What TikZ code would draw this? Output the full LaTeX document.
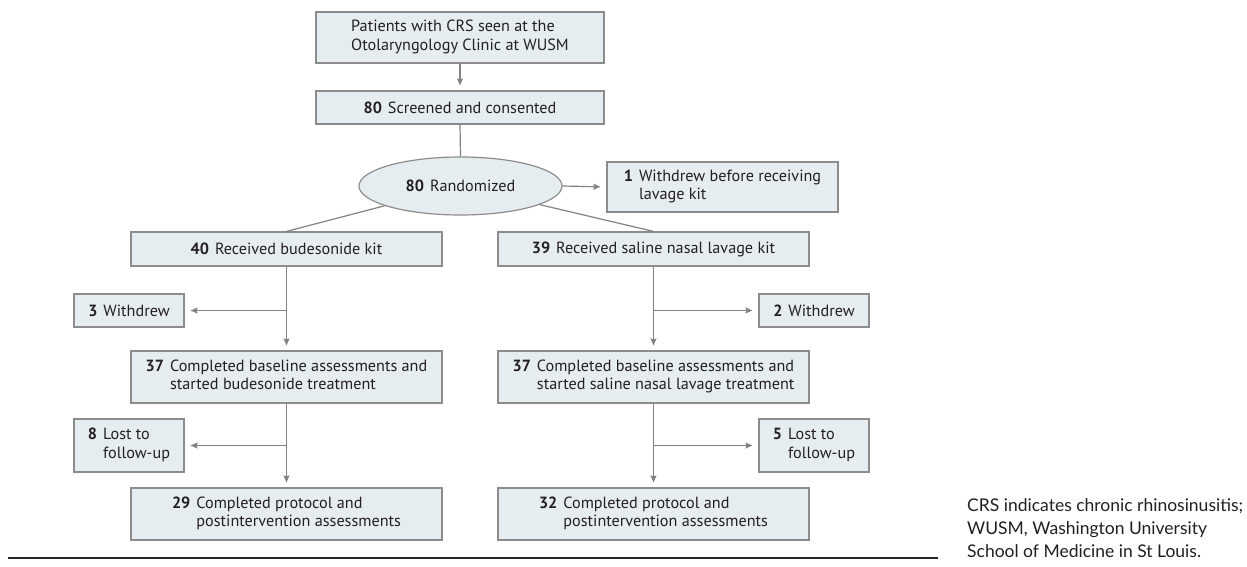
\documentclass[tikz,border=0pt]{standalone}
\usepackage{fontspec}
\usetikzlibrary{shapes.geometric,arrows.meta}
\newfontfamily\boxfont{PT Sans}
\newfontfamily\notefont{Lato}
\definecolor{boxfill}{RGB}{230,237,241}
\definecolor{boxline}{RGB}{140,140,140}
\definecolor{conn}{RGB}{130,130,130}
\definecolor{txt}{RGB}{35,31,32}
\begin{document}
\begin{tikzpicture}[x=1pt,y=-1pt,
  every node/.style={text=txt,font=\boxfont\fontsize{16.2}{18.5}\selectfont},
  fbox/.style={draw=boxline,fill=boxfill,line width=1.2pt,inner sep=0pt,align=center},
  wbox/.style={fbox,minimum width=311pt},
  sbox/.style={fbox,minimum width=110pt},
  conline/.style={draw=conn,line width=1.2pt},
  arr/.style={conline,-{Stealth[length=7pt,width=6pt,inset=1pt]},shorten >=5pt}
]
\useasboundingbox (0,0) rectangle (1247,567);
% nodes
\node[fbox,minimum width=288pt,minimum height=51pt] (b1) at (460,37.5)
  {\begin{tabular}{@{}l@{}}Patients with CRS seen at the\\Otolaryngology Clinic at WUSM\end{tabular}};
\node[fbox,minimum width=288pt,minimum height=33pt] (b2) at (460,107.5)
  {\textbf{80}\hspace{6pt}Screened and consented};
\node[ellipse,draw=boxline,fill=boxfill,line width=1.2pt,inner sep=0pt,
  minimum width=203pt,minimum height=58pt] (ell) at (460.5,186)
  {\textbf{80}\hspace{6pt}Randomized};
\node[fbox,minimum width=231pt,minimum height=50pt] (wd1) at (722.5,187)
  {\begin{tabular}{@{}r@{\hspace{6pt}}l@{}}\textbf{1}&Withdrew before receiving\\&lavage kit\end{tabular}};
\node[wbox,minimum height=34pt] (r40) at (286.5,249)
  {\textbf{40}\hspace{6pt}Received budesonide kit};
\node[wbox,minimum height=34pt] (r39) at (653.5,249)
  {\textbf{39}\hspace{6pt}Received saline nasal lavage kit};
\node[sbox,minimum height=33pt] (w3) at (129,310.5)
  {\textbf{3}\hspace{6pt}Withdrew};
\node[sbox,minimum height=33pt] (w2) at (814,310.5)
  {\textbf{2}\hspace{6pt}Withdrew};
\node[wbox,minimum height=52pt] (c37a) at (286.5,377)
  {\begin{tabular}{@{}r@{\hspace{6pt}}l@{}}\textbf{37}&Completed baseline assessments and\\&started budesonide treatment\end{tabular}};
\node[wbox,minimum height=52pt] (c37b) at (653.5,377)
  {\begin{tabular}{@{}r@{\hspace{6pt}}l@{}}\textbf{37}&Completed baseline assessments and\\&started saline nasal lavage treatment\end{tabular}};
\node[sbox,minimum height=53pt] (l8) at (129,445.5)
  {\begin{tabular}{@{}r@{\hspace{6pt}}l@{}}\textbf{8}&Lost to\\&follow-up\end{tabular}};
\node[sbox,minimum height=53pt] (l5) at (814,445.5)
  {\begin{tabular}{@{}r@{\hspace{6pt}}l@{}}\textbf{5}&Lost to\\&follow-up\end{tabular}};
\node[wbox,minimum height=52pt] (p29) at (286.5,514)
  {\begin{tabular}{@{}r@{\hspace{6pt}}l@{}}\textbf{29}&Completed protocol and\\&postintervention assessments\end{tabular}};
\node[wbox,minimum height=52pt] (p32) at (653.5,514)
  {\begin{tabular}{@{}r@{\hspace{6pt}}l@{}}\textbf{32}&Completed protocol and\\&postintervention assessments\end{tabular}};
% branch points
\coordinate (ja) at (r40.south |- w3.east);
\coordinate (jb) at (r39.south |- w2.west);
\coordinate (jc) at (c37a.south |- l8.east);
\coordinate (jd) at (c37b.south |- l5.west);
% connectors
\draw[arr] (b1.south) -- (b2.north);
\draw[conline] (b2.south) -- (ell.north);
\draw[arr,shorten >=6pt] (ell.east) -- (wd1.west);
\draw[conline] (ell) -- (r40.north);
\draw[conline] (ell) -- (r39.north);
\draw[arr] (r40.south) -- (c37a.north);
\draw[arr,shorten >=6pt] (ja) -- (w3.east);
\draw[arr] (r39.south) -- (c37b.north);
\draw[arr,shorten >=6pt] (jb) -- (w2.west);
\draw[arr] (c37a.south) -- (p29.north);
\draw[arr,shorten >=6pt] (jc) -- (l8.east);
\draw[arr] (c37b.south) -- (p32.north);
\draw[arr,shorten >=6pt] (jd) -- (l5.west);
% bottom rule
\coordinate (ruleL) at (8,558);
\coordinate (ruleR) at (938,558);
\draw[line width=1.4pt,black!85] (ruleL) -- (ruleR);
% footnote
\node[anchor=north west,inner sep=0pt,align=left,
  font=\notefont\fontsize{17.5}{23}\selectfont] (note) at (967,498)
  {CRS indicates chronic rhinosinusitis;\\WUSM, Washington University\\School of Medicine in St Louis.};
\end{tikzpicture}
\end{document}
